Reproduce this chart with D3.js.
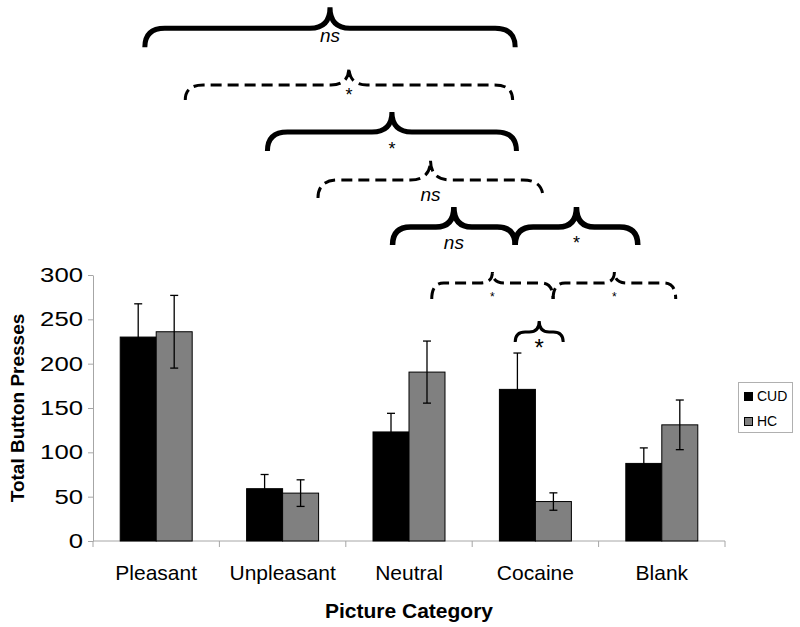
<!DOCTYPE html>
<html><head><meta charset="utf-8">
<script src="https://cdn.jsdelivr.net/npm/d3@7"></script>
<style>body{margin:0;background:#fff}svg{display:block}</style>
</head><body><svg id="c" width="800" height="627"></svg>
<script>
const categories = ["Pleasant","Unpleasant","Neutral","Cocaine","Blank"];
const seriesNames = ["CUD","HC"];
const cudValues = [230, 59, 123, 171, 87.5];
const hcValues  = [236, 54, 190.5, 44.5, 131];
const cudErrors = [37.5, 16, 21, 41, 17.5];
const hcErrors  = [41, 15, 35, 9.8, 28];
const yTicks = [0, 50, 100, 150, 200, 250, 300];
// significance braces: span in category-index units, tip level in y-value units
const braceFrom  = [-0.09, 0.23, 0.88, 1.28, 1.87, 2.84, 2.18, 3.14, 2.84];
const braceTo    = [ 2.84, 2.82, 2.85, 3.06, 2.84, 3.81, 3.14, 4.11, 3.22];
const braceLevel = [602, 534.6, 483.8, 429.7, 376.7, 376.7, 303.4, 303.4, 248.1];
const braceLabel = ["ns","*","*","ns","ns","*","*","*","*"];
const braceDashed= [false,true,false,true,false,false,true,true,false];

// ---- layout / style ----
const braceStyle = [
  {rise:21, depth:40, r:20, sw:5, ly:35, fs:19},
  {rise:18, depth:33, r:18, sw:3, ly:34, fs:18},
  {rise:20, depth:39, r:20, sw:5, ly:43, fs:18},
  {rise:20, depth:38, r:20, sw:3, ly:41, fs:19},
  {rise:20, depth:38, r:18, sw:5.5, ly:42, fs:19},
  {rise:20, depth:38, r:18, sw:5.5, ly:42, fs:18},
  {rise:11, depth:27, r:12, sw:3, ly:29, fs:12},
  {rise:11, depth:27, r:12, sw:3, ly:29, fs:12},
  {rise:11, depth:21, r:10, sw:3, ly:35, fs:24}
];

const svg = d3.select("#c");
const FONT = "'Liberation Sans', Arial, sans-serif";
const x = d3.scaleBand().domain(categories).range([93, 725]).padding(0);
const bw = x.bandwidth();
const xi = d3.scaleBand().domain(seriesNames).range([0, bw]).paddingInner(0).paddingOuter(0.756);
const y = d3.scaleLinear().domain([0, 300]).range([541, 275]);
const idx = d3.scaleLinear().domain([0, categories.length - 1])
  .range([x(categories[0]) + bw/2, x(categories[categories.length-1]) + bw/2]);

const axisColor = "#a6a6a6";

// Y axis
const ya = svg.append("g").attr("transform", "translate(93,0)")
  .call(d3.axisLeft(y).tickValues(yTicks).tickSize(5).tickPadding(5).tickSizeOuter(0));
ya.select(".domain").attr("stroke", axisColor);
ya.selectAll(".tick line").attr("stroke", axisColor);
ya.selectAll(".tick text").attr("font-family", FONT).attr("font-size", 20).attr("fill", "#000")
  .attr("textLength", d => 14.3 * String(d).length).attr("lengthAdjust", "spacingAndGlyphs");

// X axis (line + boundary ticks)
const xa = svg.append("g").attr("transform", "translate(0,541)");
xa.append("line").attr("x1", x.range()[0]).attr("x2", x.range()[1]).attr("stroke", axisColor);
const bounds = categories.map(c => x(c)).concat([x.range()[1]]);
xa.selectAll("line.t").data(bounds).join("line").attr("class","t")
  .attr("x1", d => d).attr("x2", d => d).attr("y1", 0).attr("y2", 6).attr("stroke", axisColor);
xa.selectAll("text").data(categories).join("text")
  .attr("x", d => x(d) + bw/2).attr("y", 39).attr("text-anchor", "middle")
  .attr("font-family", FONT).attr("font-size", 21).attr("fill", "#000").text(d => d);

// bars
const rows = categories.map((c, i) => ({c, v:[cudValues[i], hcValues[i]], e:[cudErrors[i], hcErrors[i]]}));
const fills = {CUD:"#000000", HC:"#808080"};
const g = svg.append("g");
rows.forEach(r => {
  seriesNames.forEach((s, k) => {
    const x0 = x(r.c) + xi(s);
    g.append("rect").attr("x", x0).attr("y", y(r.v[k])).attr("width", xi.bandwidth())
      .attr("height", y(0) - y(r.v[k])).attr("fill", fills[s]).attr("stroke", "#000").attr("stroke-width", 1);
  });
});
// error bars
rows.forEach(r => {
  seriesNames.forEach((s, k) => {
    const cx = x(r.c) + xi(s) + xi.bandwidth()/2;
    const hi = y(r.v[k] + r.e[k]), lo = y(r.v[k] - r.e[k]);
    const col = "#000";
    g.append("line").attr("x1", cx).attr("x2", cx).attr("y1", hi).attr("y2", lo).attr("stroke", col).attr("stroke-width", 1.3);
    [hi, lo].forEach(yy => g.append("line").attr("x1", cx-4).attr("x2", cx+4).attr("y1", yy).attr("y2", yy).attr("stroke", col).attr("stroke-width", 1.3));
  });
});

// braces
const bg = svg.append("g");
braceFrom.forEach((f, i) => {
  const st = braceStyle[i];
  const x1 = idx(f), x2 = idx(braceTo[i]), xm = (x1 + x2)/2;
  const yt = y(braceLevel[i]), yl = yt + st.rise, ye = yt + st.depth;
  const r = st.r;
  const p = d3.path();
  p.moveTo(x1, ye);
  p.quadraticCurveTo(x1, yl, x1 + r, yl);
  p.lineTo(xm - r, yl);
  p.quadraticCurveTo(xm, yl, xm, yt);
  p.quadraticCurveTo(xm, yl, xm + r, yl);
  p.lineTo(x2 - r, yl);
  p.quadraticCurveTo(x2, yl, x2, ye);
  bg.append("path").attr("d", p.toString()).attr("fill", "none").attr("stroke", "#000")
    .attr("stroke-width", st.sw).attr("stroke-dasharray", braceDashed[i] ? "11,6" : null)
    .attr("stroke-linecap", "butt");
  bg.append("text").attr("x", xm).attr("y", yt + st.ly).attr("text-anchor", "middle")
    .attr("font-family", FONT).attr("font-size", st.fs)
    .attr("font-style", braceLabel[i] === "ns" ? "italic" : "normal").attr("fill", "#000").text(braceLabel[i]);
});

// axis titles
svg.append("text").attr("x", 409).attr("y", 618).attr("text-anchor", "middle")
  .attr("font-family", FONT).attr("font-weight", "bold").attr("font-size", 21).text("Picture Category");
svg.append("text").attr("transform", "translate(24,408) rotate(-90)").attr("text-anchor", "middle")
  .attr("font-family", FONT).attr("font-weight", "bold").attr("font-size", 19).text("Total Button Presses");

// legend
const lg = svg.append("g").attr("transform", "translate(738,382)");
lg.append("rect").attr("x", 0.5).attr("y", 0.5).attr("width", 54).attr("height", 50)
  .attr("fill", "#fff").attr("stroke", "#b0b0b0");
seriesNames.forEach((s, k) => {
  lg.append("rect").attr("x", 6.5).attr("y", 10.5 + k*25).attr("width", 8).attr("height", 8)
    .attr("fill", fills[s]).attr("stroke", "#000");
  lg.append("text").attr("x", 19).attr("y", 19 + k*25).attr("font-family", FONT)
    .attr("font-size", 14).attr("fill", "#000").text(s);
});
</script></body></html>
